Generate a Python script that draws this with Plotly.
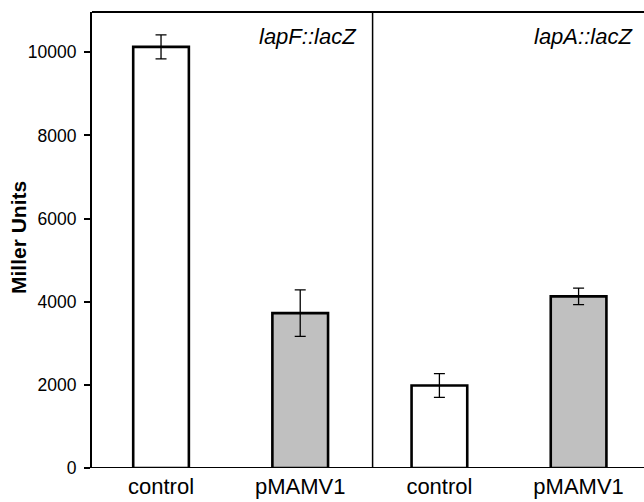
import plotly.graph_objects as go

categories = ["control", "pMAMV1", "control", "pMAMV1"]
values = [10130, 3727, 1984, 4128]
errors = [290, 560, 285, 200]
fill_colors = ["white", "#c0c0c0", "white", "#c0c0c0"]
y_ticks = [0, 2000, 4000, 6000, 8000, 10000]
panel_labels = ["lapF::lacZ", "lapA::lacZ"]
y_title = "Miller Units"

xpos = list(range(len(categories)))

fig = go.Figure()
fig.add_trace(go.Bar(
    x=xpos, y=values, width=0.4,
    marker=dict(color=fill_colors, line=dict(color="black", width=2.6)),
    error_y=dict(type="data", array=errors, visible=True, color="black",
                 thickness=1.3, width=5.5),
    showlegend=False,
))

fig.update_layout(
    width=644, height=502,
    margin=dict(l=92, r=0, t=12, b=34),
    paper_bgcolor="white", plot_bgcolor="white",
    font=dict(family="Liberation Sans, Arial, sans-serif", color="black"),
    xaxis=dict(
        range=[-0.496, 3.47], tickmode="array", tickvals=xpos, ticktext=categories,
        showgrid=False, zeroline=False, showline=False, ticks="",
        tickfont=dict(size=22), ticklabelstandoff=3,
    ),
    yaxis=dict(
        range=[0, 10970], tickmode="array", tickvals=y_ticks,
        ticktext=[str(v) for v in y_ticks],
        showgrid=False, zeroline=False, showline=True, linecolor="black", linewidth=2,
        ticks="outside", ticklen=6, tickwidth=1.5, tickcolor="black",
        tickfont=dict(size=17.5), ticklabelstandoff=4,
    ),
    bargap=0.6,
)

# axis frame lines: bottom axis (extends left to tick), top border, divider
fig.add_shape(type="line", xref="paper", yref="y", x0=-0.011, x1=1.0, y0=0, y1=0,
              line=dict(color="black", width=2.2))
fig.add_shape(type="line", xref="paper", yref="paper", x0=0, x1=1.0, y0=1, y1=1,
              line=dict(color="black", width=2))
fig.add_shape(type="line", xref="x", yref="paper", x0=1.52, x1=1.52, y0=0, y1=1,
              line=dict(color="black", width=1.5))

fig.add_annotation(x=0, y=0.5, xref="paper", yref="paper", text="<b>" + y_title + "</b>",
                   showarrow=False, xanchor="center", yanchor="middle", textangle=-90,
                   xshift=-74, yshift=2, font=dict(size=21))
fig.add_annotation(x=1.52, y=1, xref="x", yref="paper", text="<i>" + panel_labels[0] + "</i>",
                   showarrow=False, xanchor="right", yanchor="top", xshift=-14, yshift=-10,
                   font=dict(size=22))
fig.add_annotation(x=1.0, y=1, xref="paper", yref="paper", text="<i>" + panel_labels[1] + "</i>",
                   showarrow=False, xanchor="right", yanchor="top", xshift=-9, yshift=-10,
                   font=dict(size=22))

fig.write_html("out.html", config={"displayModeBar": False},
               post_script="document.body.style.margin='0';document.body.style.overflow='hidden';")
